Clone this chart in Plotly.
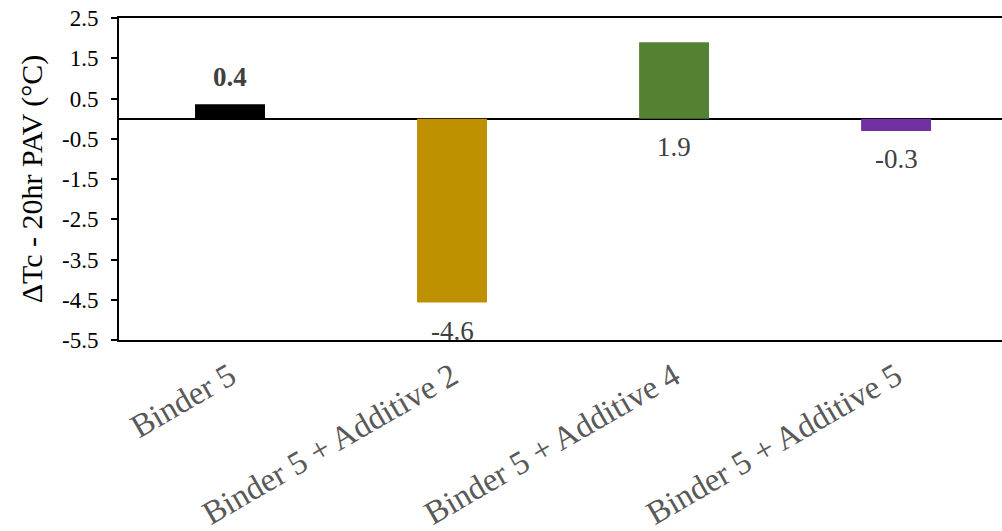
import plotly.graph_objects as go

# data
categories = ["Binder 5", "Binder 5 + Additive 2", "Binder 5 + Additive 4", "Binder 5 + Additive 5"]
delta_tc = [0.36, -4.57, 1.9, -0.31]
label_text = ["0.4", "-4.6", "1.9", "-0.3"]
bar_colors = ["#000000", "#BF9000", "#548235", "#7030A0"]
y_ticks = [2.5, 1.5, 0.5, -0.5, -1.5, -2.5, -3.5, -4.5, -5.5]

FONT = "Times New Roman, Liberation Serif, DejaVu Serif, serif"

fig = go.Figure()
fig.add_trace(go.Bar(
    x=categories,
    y=delta_tc,
    marker=dict(color=bar_colors, line=dict(width=0)),
    width=0.315,
    hoverinfo="skip",
))

# data labels: first one bold above the bar, the rest under the bar / base
for i, (cat, v, t) in enumerate(zip(categories, delta_tc, label_text)):
    if i == 0:
        fig.add_annotation(x=cat, y=v, text="<b>" + t + "</b>", showarrow=False,
                           yanchor="middle", yshift=27,
                           font=dict(family=FONT, size=27, color="#404040"))
    else:
        fig.add_annotation(x=cat, y=min(v, 0), text=t, showarrow=False,
                           yanchor="middle", yshift=-28,
                           font=dict(family=FONT, size=27, color="#404040"))

fig.update_layout(
    width=1002, height=531,
    margin=dict(l=119, r=0, t=18, b=191, autoexpand=False),
    paper_bgcolor="white", plot_bgcolor="white",
    showlegend=False,
    font=dict(family=FONT, color="#000000"),
)

fig.update_xaxes(
    range=[-0.5, 3.477],
    automargin=False,
    showline=True, linecolor="#000000", linewidth=2, mirror=True,
    showgrid=False, ticks="",
    tickangle=-30,
    ticklabelstandoff=2,
    tickfont=dict(family=FONT, size=33, color="#595959"),
)

fig.update_yaxes(
    range=[-5.5, 2.5],
    automargin=False,
    tickvals=y_ticks,
    ticktext=[f"{v:.1f}" for v in y_ticks],
    showline=True, linecolor="#000000", linewidth=2,
    ticks="outside", ticklen=6, tickwidth=2, tickcolor="#000000",
    ticklabelstandoff=8,
    showgrid=False,
    zeroline=True, zerolinecolor="#000000", zerolinewidth=2,
    tickfont=dict(family=FONT, size=23, color="#000000"),
    title=dict(text="ΔTc - 20hr PAV (°C)", font=dict(family=FONT, size=30, color="#000000"),
               standoff=10),
)

fig.write_html("out.html", config={"displayModeBar": False},
               post_script="document.body.style.margin='0';")
